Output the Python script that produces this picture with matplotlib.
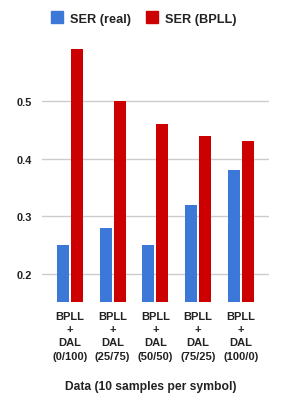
import matplotlib
matplotlib.use("Agg")
import matplotlib.pyplot as plt
from matplotlib.lines import Line2D
import numpy as np

categories = ["BPLL\n+\nDAL\n(0/100)", "BPLL\n+\nDAL\n(25/75)", "BPLL\n+\nDAL\n(50/50)",
              "BPLL\n+\nDAL\n(75/25)", "BPLL\n+\nDAL\n(100/0)"]
ser_real = [0.25, 0.28, 0.25, 0.32, 0.38]
ser_bpll = [0.59, 0.50, 0.46, 0.44, 0.43]
series_names = ["SER (real)", "SER (BPLL)"]
yticks = [0.2, 0.3, 0.4, 0.5]
xlabel = "Data (10 samples per symbol)"

blue = "#3c78d8"
red = "#cc0000"
txt = "#222222"

plt.rcParams['font.family'] = ['Liberation Sans', 'DejaVu Sans']

fig = plt.figure(figsize=(2.84, 4.06), dpi=100)
ax = fig.add_axes([0.147, 0.253, 0.80, 0.637])

x = np.arange(len(categories))
w = 0.28
off = 0.163
ax.bar(x - off, ser_real, width=w, color=blue, bottom=0, zorder=3)
ax.bar(x + off, ser_bpll, width=w, color=red, bottom=0, zorder=3)

ax.set_ylim(0.15, 0.6)
ax.set_xlim(-0.662, 4.662)
ax.set_yticks(yticks)
ax.set_yticklabels([f"{v:.1f}" for v in yticks], fontsize=7.9, fontweight='bold', color=txt)
ax.set_xticks(x)
ax.set_xticklabels(categories, fontsize=8.0, fontweight='bold', color=txt, linespacing=1.42)
ax.tick_params(axis='both', length=0)
ax.tick_params(axis='y', pad=7)
ax.tick_params(axis='x', pad=6)
ax.grid(axis='y', color='#cccccc', linewidth=1, zorder=0)
for s in ax.spines.values():
    s.set_visible(False)

ax.set_xlabel(xlabel, fontsize=8.7, fontweight='bold', color=txt)
ax.xaxis.set_label_coords(0.48, -0.302, transform=ax.transAxes)

handles = [Line2D([], [], marker='s', linestyle='none', markersize=8.5, color=blue),
           Line2D([], [], marker='s', linestyle='none', markersize=8.5, color=red)]
fig.legend(handles, series_names, loc='center', bbox_to_anchor=(0.508, 0.951), ncol=2,
           frameon=False, prop={'size': 9.2, 'weight': 'bold'}, labelcolor=txt,
           handlelength=0.8, handletextpad=0.6, columnspacing=1.3)

fig.savefig("out.png", dpi=100)
